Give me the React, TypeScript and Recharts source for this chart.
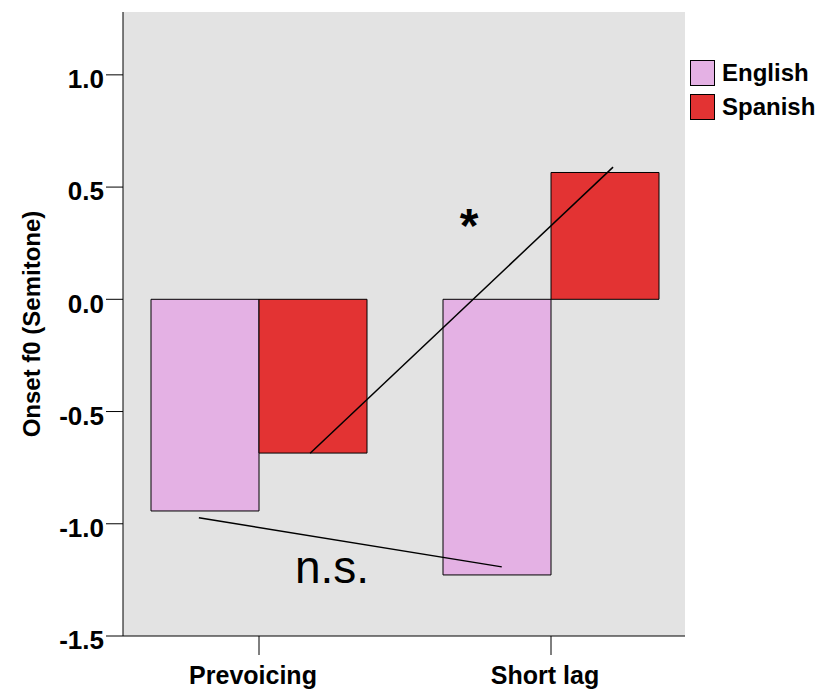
import React from "react";
import {
  BarChart,
  Bar,
  XAxis,
  YAxis,
  CartesianGrid,
  Legend,
  ReferenceLine,
  ReferenceDot,
} from "recharts";

const categories = ["Prevoicing", "Short lag"];
const englishValues = [-0.943, -1.228];
const spanishValues = [-0.685, 0.565];
const yTicks = [-1.5, -1.0, -0.5, 0.0, 0.5, 1.0];

// annotation positions: x on a hidden 0..1 axis across the plot, y in semitones
const nsLine = [
  { x: 0.135, y: -0.973 },
  { x: 0.674, y: -1.192 },
];
const sigLine = [
  { x: 0.333, y: -0.686 },
  { x: 0.872, y: 0.589 },
];
const nsLabel = { x: 0.306, y: -1.263, text: "n.s." };
const sigLabel = { x: 0.616, y: 0.254, text: "*" };

const data = categories.map((c, i) => ({
  name: c,
  english: englishValues[i],
  spanish: spanishValues[i],
}));

const FONT = "'Liberation Sans', Arial, sans-serif";

const renderLegend = (props: any) => (
  <div style={{ fontFamily: FONT, fontWeight: "bold", fontSize: 24, color: "#000" }}>
    {props.payload.map((entry: any) => (
      <div
        key={entry.value}
        style={{ display: "flex", alignItems: "center", height: 34 }}
      >
        <span
          style={{
            width: 25,
            height: 26,
            background: entry.color,
            border: "1px solid #000",
            boxSizing: "border-box",
            display: "inline-block",
          }}
        />
        <span style={{ marginLeft: 7, lineHeight: "26px" }}>{entry.value}</span>
      </div>
    ))}
  </div>
);

const textShape = (text: string, size: number, weight: string, anchor: string) =>
  (props: any) => (
    <text
      x={props.cx}
      y={props.cy}
      textAnchor={anchor}
      fontSize={size}
      fontWeight={weight}
      fontFamily={FONT}
      fill="#000"
    >
      {text}
    </text>
  );

export default function App() {
  return (
    <div style={{ position: "absolute", left: 0, top: 0 }}>
      <BarChart
        width={823}
        height={691}
        data={data}
        margin={{ top: 12, right: 138, left: 0, bottom: 10 }}
        barCategoryGap={38}
        barGap={0}
      >
        <CartesianGrid horizontal={false} vertical={false} fill="#e3e3e3" />
        <XAxis
          dataKey="name"
          height={45}
          padding={{ left: -10, right: -12 }}
          axisLine={{ stroke: "#000" }}
          tickLine={{ stroke: "#000" }}
          tickSize={19}
          tickMargin={11}
          tick={{ fill: "#000", fontSize: 25, fontWeight: "bold", fontFamily: FONT, dx: -6 }}
        />
        <XAxis
          xAxisId="n"
          type="number"
          orientation="top"
          domain={[0, 1]}
          allowDataOverflow
          height={0}
          tick={false}
          tickLine={false}
          axisLine={{ stroke: "#000" }}
        />
        <YAxis
          type="number"
          width={123}
          domain={[-1.5, 1.28]}
          allowDataOverflow
          ticks={yTicks}
          tickFormatter={(v: number) => v.toFixed(1)}
          axisLine={{ stroke: "#000" }}
          tickLine={{ stroke: "#000" }}
          tickSize={17}
          tickMargin={2}
          tick={{ fill: "#000", fontSize: 26, fontWeight: "bold", fontFamily: FONT, dy: 4 }}
          label={{
            value: "Onset f0 (Semitone)",
            angle: -90,
            position: "insideLeft",
            offset: 31,
            style: {
              fontSize: 24,
              fontWeight: "bold",
              fontFamily: FONT,
              fill: "#000",
              textAnchor: "middle",
            },
          }}
        />
        <YAxis
          yAxisId="r"
          orientation="right"
          width={0}
          domain={[-1.5, 1.28]}
          tick={false}
          tickLine={false}
          axisLine={{ stroke: "#000" }}
        />
        <Legend
          layout="horizontal"
          verticalAlign="middle"
          align="center"
          content={renderLegend}
          wrapperStyle={{ left: 690, top: 56, width: 133, height: "auto" }}
        />
        <Bar
          dataKey="english"
          name="English"
          fill="#e4b1e4"
          stroke="#000"
          strokeWidth={1}
          isAnimationActive={false}
        />
        <Bar
          dataKey="spanish"
          name="Spanish"
          fill="#e33333"
          stroke="#000"
          strokeWidth={1}
          isAnimationActive={false}
        />
        <ReferenceLine
          xAxisId="n"
          segment={nsLine}
          stroke="#000"
          strokeWidth={1.5}
          ifOverflow="visible"
        />
        <ReferenceLine
          xAxisId="n"
          segment={sigLine}
          stroke="#000"
          strokeWidth={1.5}
          ifOverflow="visible"
        />
        <ReferenceDot
          xAxisId="n"
          x={nsLabel.x}
          y={nsLabel.y}
          r={0}
          ifOverflow="visible"
          shape={textShape(nsLabel.text, 46, "normal", "start")}
        />
        <ReferenceDot
          xAxisId="n"
          x={sigLabel.x}
          y={sigLabel.y}
          r={0}
          ifOverflow="visible"
          shape={textShape(sigLabel.text, 48, "bold", "middle")}
        />
      </BarChart>
    </div>
  );
}
